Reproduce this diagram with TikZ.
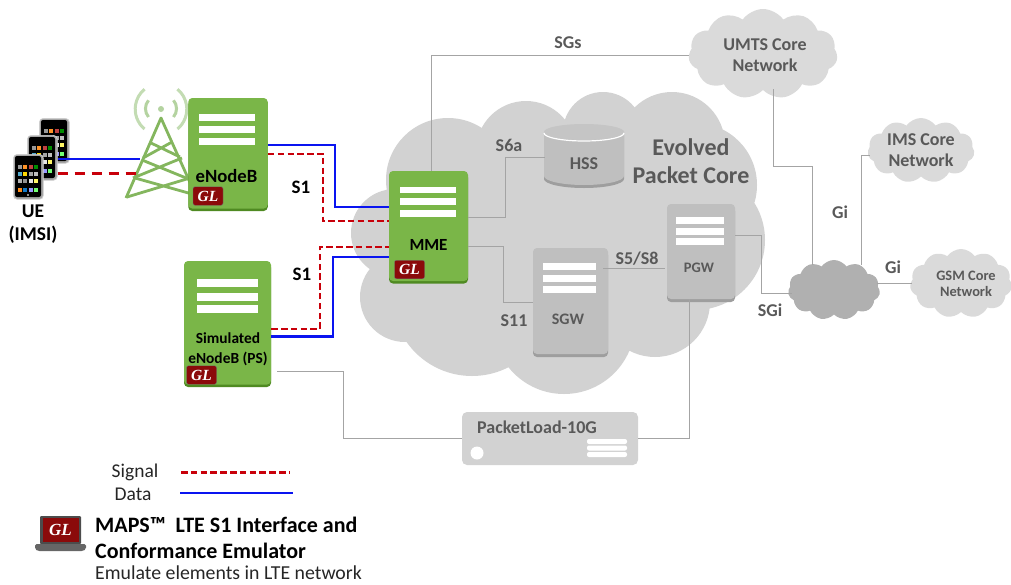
\documentclass[tikz,border=0pt]{standalone}
\usepackage{fontspec}
\setmainfont{Carlito}
\newfontfamily\glfont{Liberation Serif}
\usetikzlibrary{shapes.symbols,shadows,calc}
\definecolor{grn}{HTML}{7AB648}
\definecolor{grnd}{HTML}{4F8A22}
\definecolor{gbox}{HTML}{BFBFBF}
\definecolor{gboxd}{HTML}{9E9E9E}
\definecolor{cloudA}{HTML}{D2D2D2}
\definecolor{cloudB}{HTML}{DADADA}
\definecolor{cloudC}{HTML}{B0B0B0}
\definecolor{lnk}{HTML}{A4A4A4}
\definecolor{txg}{HTML}{595959}
\definecolor{glred}{HTML}{8B0A0A}
\definecolor{sig}{HTML}{C8000A}
\definecolor{dat}{HTML}{0A14F0}
\definecolor{twr}{HTML}{84B65E}
\definecolor{twrl}{HTML}{B4D3A0}
\tikzset{
  x=1pt,y=-1pt,
  srvG/.style={rectangle,rounded corners=4pt,fill=grn,inner sep=0pt,
    general shadow={fill=grnd,shadow xshift=0pt,shadow yshift=-2.5pt}},
  srvA/.style={rectangle,rounded corners=4pt,fill=gbox,inner sep=0pt,
    general shadow={fill=gboxd,shadow xshift=0pt,shadow yshift=-3pt}},
  bar/.style={fill=white,draw=none},
  lk/.style={draw=lnk,line width=0.9pt},
  datal/.style={draw=dat,line width=2.5pt},
  sigl/.style={draw=sig,line width=2.4pt,dash pattern=on 6.5pt off 3.3pt},
  sigw/.style={draw=sig,line width=2.4pt,dash pattern=on 10pt off 7pt},
  lbl/.style={font=\fontsize{18}{21}\selectfont\bfseries,text=txg,inner sep=0pt,align=center},
  blk/.style={font=\fontsize{19.5}{23}\selectfont\bfseries,text=black,inner sep=0pt,align=center},
  cld/.style={cloud,cloud puffs=#1,cloud puff arc=110,aspect=1.7,inner sep=0pt},
  badge/.style={rectangle,rounded corners=2pt,fill=glred,draw=black!55,line width=0.4pt,inner sep=0pt,
    minimum width=30pt,minimum height=18.5pt,text=white,font=\glfont\fontsize{15.5}{15.5}\selectfont\bfseries\itshape},
  twl/.style={draw=twr,line width=2.8pt},
  wave/.style={draw=twrl,line width=3pt},
}
\newcommand{\bars}[6]{%
  \fill[bar] (#1,#3) rectangle (#2,#3+#4);
  \fill[bar] (#1,#5) rectangle (#2,#5+#4);
  \fill[bar] (#1,#6) rectangle (#2,#6+#4);}
\newcommand{\phoneicon}[4]{\fill[#4] (#1+#2*5.6+4.5,#3) rectangle ++(4,4);}
\newcommand{\phone}[3]{% name x y
  \node[rectangle,rounded corners=4pt,fill=gray!70,draw=gray!35,line width=0.7pt,inner sep=0pt,minimum width=30pt,minimum height=45pt,anchor=north west] (#1) at (#2,#3) {};
  \fill[black,rounded corners=2pt] (#2+2,#3+2) rectangle (#2+28,#3+43);
  \foreach \k/\c in {0/gray!80,1/orange!85,2/red!50!gray,3/green!55!black}{\phoneicon{#2}{\k}{#3+11}{\c}}
  \foreach \k/\c in {0/cyan!60!gray,1/yellow!75!orange,2/gray!70,3/gray!50}{\phoneicon{#2}{\k}{#3+18}{\c}}
  \foreach \k/\c in {0/gray!60,1/gray!85,2/white!80!gray,3/yellow!60}{\phoneicon{#2}{\k}{#3+25}{\c}}
  \foreach \k/\c in {0/orange!90,1/cyan!60!blue,2/blue!40,3/green!55}{\phoneicon{#2}{\k}{#3+34}{\c}}
  \fill[gray!50] (#2+15,#3+41) circle[radius=1.2];
}
\begin{document}
\begin{tikzpicture}
\useasboundingbox (0,0) rectangle (1011,584);

% Evolved Packet Core cloud
\fill[cloudA]
  (395,233) circle[radius=44]
  (405,297) circle[radius=45]
  (448,180) circle[radius=62]
  (526,151) circle[radius=50]
  (603,132) circle[radius=40]
  (672,145) circle[radius=53]
  (695,185) circle[radius=62]
  (695,240) circle[radius=70]
  (655,302) circle[radius=55]
  (472,296) circle[radius=80]
  (564,323) circle[radius=71];
\fill[cloudA] (430,150) rectangle (690,330);

% outer clouds
\node[cld=11,fill=cloudB,minimum width=149pt,minimum height=90pt] (umts) at (763,54) {};
\node[lbl] (umtst) at (765,55.5) {UMTS Core\\Network};
\node[cld=11,fill=cloudB,minimum width=107pt,minimum height=65pt] (ims) at (921,150.5) {};
\node[lbl] (imst) at (921,150) {IMS Core\\Network};
\node[cld=11,fill=cloudB,minimum width=102pt,minimum height=69pt] (gsm) at (961,283.5) {};
\node[lbl,font=\fontsize{14.4}{16.5}\selectfont\bfseries] (gsmt) at (966,284) {GSM Core\\Network};
\node[cld=11,fill=cloudC,minimum width=92pt,minimum height=60pt] (sgi) at (834,290) {};

% boxes
\node[srvG,minimum width=79pt,minimum height=110pt] (mme) at (428.5,226) {};
\node[srvG,minimum width=87pt,minimum height=123.5pt] (sim) at (227.5,322.75) {};
\node[srvA,minimum width=75pt,minimum height=106pt] (sgw) at (570.5,301) {};
\node[srvA,minimum width=68pt,minimum height=95pt] (pgw) at (701,251.5) {};
\node[rectangle,rounded corners=5pt,fill=cloudA,inner sep=0pt,minimum width=176pt,minimum height=53pt] (pl) at (550,438.5) {};
\bars{543}{596}{263}{6.5}{275}{286}
\bars{676}{724}{217}{6.5}{228}{238}
\node[lbl,font=\fontsize{16}{18}\selectfont\bfseries] (sgwt) at (568,319) {SGW};
\node[lbl,font=\fontsize{14.5}{16}\selectfont\bfseries] (pgwt) at (699,268) {PGW};

% HSS cylinder
\fill[gboxd] (544,135) -- (544,179) arc[start angle=180,end angle=360,x radius=40,y radius=-9] -- (624,135) -- cycle;
\fill[gbox] (544,133) rectangle (624,176);
\fill[gbox] (544,176) arc[start angle=180,end angle=360,x radius=40,y radius=-9] -- cycle;
\fill[gray!45] (544,132) arc[start angle=180,end angle=360,x radius=40,y radius=-8] -- (624,132) arc[start angle=0,end angle=180,x radius=40,y radius=-8] -- cycle;
\fill[cloudA!94!black] (584,132) ellipse[x radius=40,y radius=7.5];
\draw[white,line width=1.2pt] (544,133) arc[start angle=180,end angle=360,x radius=40,y radius=-8];
\node[lbl] (hss) at (584,164) {HSS};
\coordinate (hssw) at (545,157);

% grey links
\draw[lk] (mme.north -| 431,0) -- (431,55) -- (umts.west |- 0,55);
\draw[lk] (mme.east |- 0,217) -- (505.5,217) |- (hssw);
\draw[lk] (mme.east |- 0,246) -- (503,246) |- (sgw.west |- 0,302);
\draw[lk] ([xshift=-5pt]sgw.east |- 0,268) -- ([xshift=-2pt]pgw.west |- 0,268);
\draw[lk] (pgw.east |- 0,235) -- (761,235) |- ([xshift=4pt]sgi.west |- 0,293);
\draw[lk] ([yshift=1pt]umts.south -| 773,0) -- (773,166) -- (812,166) -- ([yshift=-5pt]sgi.north -| 812,0);
\draw[lk] ([yshift=-5pt]sgi.north -| 861,0) -- (861,155) -- ([xshift=2pt]ims.west |- 0,155);
\draw[lk] ([xshift=-3pt]sgi.east |- 0,283) -- ([xshift=2pt]gsm.west |- 0,283);
\draw[lk] ([xshift=6pt]sim.east |- 0,371) -- (343,371) |- (pl.west);
\draw[lk] (pl.east) -- (689,438.5) -- (pgw.south -| 689,0);

% packetload details
\node[lbl] (plt) at (537,427) {PacketLoad-10G};
\fill[white] (477,453) circle[radius=6.5];
\fill[white,rounded corners=2pt] (587,439) rectangle (627,444);
\fill[white,rounded corners=2pt] (587,445.5) rectangle (627,450.5);
\fill[white,rounded corners=2pt] (587,452) rectangle (627,457);

% tower
\draw[wave] (148.5,117) arc[start angle=140,end angle=220,radius=13];
\draw[wave] (173.5,117) arc[start angle=40,end angle=-40,radius=13];
\draw[wave,draw=twrl!80] (144.5,129) arc[start angle=130,end angle=230,radius=26];
\draw[wave,draw=twrl!80] (177.5,129) arc[start angle=50,end angle=-50,radius=26];
\fill[twrl] (161,109) circle[radius=3];
\draw[twl,line join=round] (126,198) -- (161,118) -- (197,198);
\draw[twl] (151,143) -- (180,157) (172,142) -- (143,158);
\draw[twl] (142,160) -- (191,180) (182,158) -- (133,178);
\draw[twl] (135,178) -- (192,194) (190,178) -- (127,197);

% UE
\phone{ph3}{39}{118}
\coordinate (twB) at (140,159);
\coordinate (twR) at (137,173.5);
\phone{ph2}{27}{135}
\draw[datal] (ph2.east |- 0,159) -- (twB);
\draw[sigw] (ph2.east |- 0,173.5) -- (twR);
\phone{ph1}{13}{154}
\node[blk] (ue) at (33,224) {UE\\(IMSI)};

% green servers
\node[srvG,minimum width=79.5pt,minimum height=110.5pt] (enb) at (228,153.25) {};
\bars{199}{255}{114}{6.5}{126}{138}
\node[inner sep=0pt,font=\fontsize{18.7}{22}\selectfont\bfseries] (enbt) at (226.5,176) {eNodeB};
\node[badge] (glenb) at (208,196) {GL};

\bars{400}{456}{186.5}{6.5}{198}{210}
\node[inner sep=0pt,font=\fontsize{17}{20}\selectfont\bfseries] (mmet) at (428.5,244.5) {MME};
\node[badge] (glmme) at (409.5,269.5) {GL};

\bars{197}{258}{279}{7.5}{293}{305}
\node[inner sep=0pt,align=center,font=\fontsize{15.4}{19.5}\selectfont\bfseries] (simt) at (228,349.5) {Simulated\\eNodeB (PS)};
\node[badge] (glsim) at (201.5,375) {GL};

% S1 data/signal
\draw[sigl] (enb.east |- 0,154) -- (323,154) |- (mme.west |- 0,221);
\draw[datal] (enb.east |- 0,145) -- (335,145) |- (mme.west |- 0,207);
\draw[sigl] (sim.east |- 0,329) -- (320,329) |- (mme.west |- 0,247);
\draw[datal] (sim.east |- 0,336.5) -- (333,336.5) |- (mme.west |- 0,257);

% labels
\node[lbl] (lsgs) at (568,43) {SGs};
\node[lbl] (ls6a) at (509,145) {S6a};
\node[lbl] (ls11) at (514,321) {S11};
\node[lbl] (ls5) at (637,259) {S5/S8};
\node[lbl] (lsgi) at (770,310) {SGi};
\node[lbl] (lgi1) at (840,212) {Gi};
\node[lbl] (lgi2) at (893,267) {Gi};
\node[blk,font=\fontsize{19}{22}\selectfont\bfseries] (ls1a) at (301,187) {S1};
\node[blk,font=\fontsize{19}{22}\selectfont\bfseries] (ls1b) at (302,274.5) {S1};
\node[lbl,font=\fontsize{24}{28}\selectfont\bfseries] (epc) at (691,161) {Evolved\\Packet Core};

% legend
\node[inner sep=0pt,font=\fontsize{19.5}{22}\selectfont,text=black!85] (lgs) at (135,472) {Signal};
\node[inner sep=0pt,font=\fontsize{19.5}{22}\selectfont,text=black!85] (lgd) at (133,494) {Data};
\coordinate (lgsa) at (181,472.5);\coordinate (lgsb) at (289,472.5);
\coordinate (lgda) at (180,493);\coordinate (lgdb) at (293,493);
\draw[sigl] (lgsa) -- (lgsb);
\draw[datal] (lgda) -- (lgdb);

% laptop
\fill[black!70,rounded corners=1pt] (40,516) rectangle (81,544);
\node[rectangle,fill=glred,inner sep=0pt,minimum width=36pt,minimum height=24pt,text=white,font=\glfont\fontsize{17}{17}\selectfont\bfseries\itshape] (lap) at (60.5,530) {GL};
\fill[gray!80!black,rounded corners=1.5pt] (35,544) -- (86,544) -- (86,549) -- (83,551) -- (38,551) -- (35,549) -- cycle;

\node[anchor=west,inner sep=0pt,font=\fontsize{22}{26}\selectfont\bfseries] (t1) at (95,525) {MAPS™\ \ LTE S1 Interface and};
\node[anchor=west,inner sep=0pt,font=\fontsize{22}{26}\selectfont\bfseries] (t2) at (95,551) {Conformance Emulator};
\node[anchor=west,inner sep=0pt,font=\fontsize{19.8}{23}\selectfont,text=black!85] (t3) at (95,572.5) {Emulate elements in LTE network};
\end{tikzpicture}
\end{document}
